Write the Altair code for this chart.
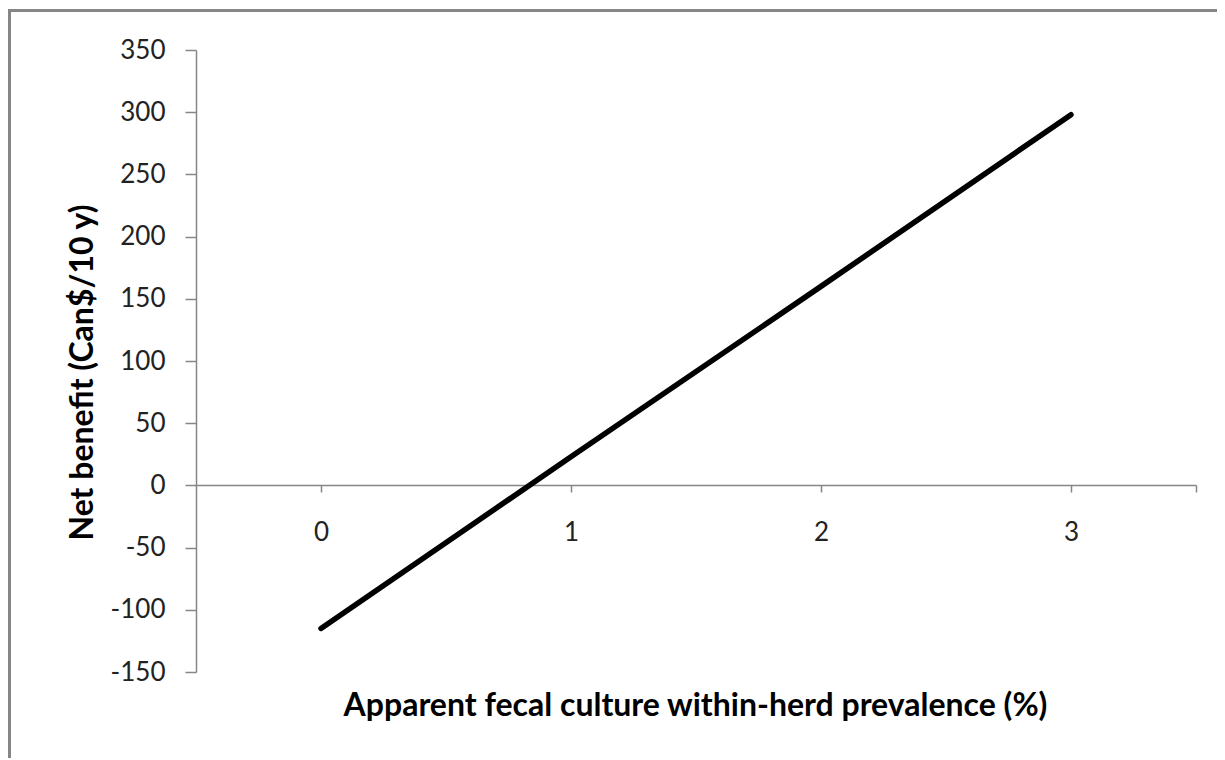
import altair as alt
import pandas as pd

prevalence = [0, 1, 2, 3]
net_benefit = [-115, 23, 160, 298]

x_ticks = [0, 1, 2, 3, 3.5]
y_ticks = [-150, -100, -50, 0, 50, 100, 150, 200, 250, 300, 350]

df = pd.DataFrame({"prevalence": prevalence, "net_benefit": net_benefit})

FONT = "Lato"
AX = "#868686"
TICK_FS = 26
TITLE_FS = 32

line = alt.Chart(df).mark_line(color="black", strokeWidth=5.5, strokeCap="round").encode(
    x=alt.X(
        "prevalence:Q",
        scale=alt.Scale(domain=[-0.5, 3.5], nice=False, zero=False),
        axis=alt.Axis(
            values=x_ticks,
            labelExpr="datum.value == 3.5 ? '' : '' + datum.value",
            offset=-187,
            grid=False,
            domainColor=AX,
            domainWidth=1.5,
            tickColor=AX,
            tickWidth=1.5,
            tickSize=7,
            labelPadding=27,
            labelFont=FONT,
            labelFontSize=TICK_FS,
            labelColor="#222222",
            title="Apparent fecal culture within-herd prevalence (%)",
            titleFont=FONT,
            titleFontSize=TITLE_FS,
            titleFontWeight="bold",
            titleColor="black",
            titleX=499,
            titleY=220,
            titleBaseline="middle",
            titleAlign="center",
        ),
    ),
    y=alt.Y(
        "net_benefit:Q",
        scale=alt.Scale(domain=[-150, 350], nice=False, zero=False),
        axis=alt.Axis(
            values=y_ticks,
            labelExpr="'' + datum.value",
            grid=False,
            domainColor=AX,
            domainWidth=1.5,
            tickColor=AX,
            tickWidth=1.5,
            tickSize=11,
            labelPadding=20,
            labelFont=FONT,
            labelFontSize=TICK_FS,
            labelColor="#222222",
            title="Net benefit (Can$/10 y)",
            titleFont=FONT,
            titleFontSize=TITLE_FS,
            titleFontWeight="bold",
            titleColor="black",
            titleAngle=-90,
            titleX=-114,
            titleY=322,
            titleBaseline="middle",
            titleAlign="center",
        ),
    ),
)

border = alt.Chart(pd.DataFrame({"a": [0]})).mark_rect(
    fill=None, stroke=AX, strokeWidth=3, clip=False
).encode(
    x=alt.value(-186.5),
    x2=alt.value(2000),
    y=alt.value(-39.5),
    y2=alt.value(2000),
)

chart = alt.layer(border, line).properties(
    width=1000,
    height=622,
    autosize=alt.AutoSizeParams(type="none"),
    padding={"left": 188, "top": 42, "right": 21, "bottom": 86},
    background="white",
).configure_view(strokeWidth=0, stroke="transparent")

chart.save("out.html", embed_options={"renderer": "svg", "actions": False})
